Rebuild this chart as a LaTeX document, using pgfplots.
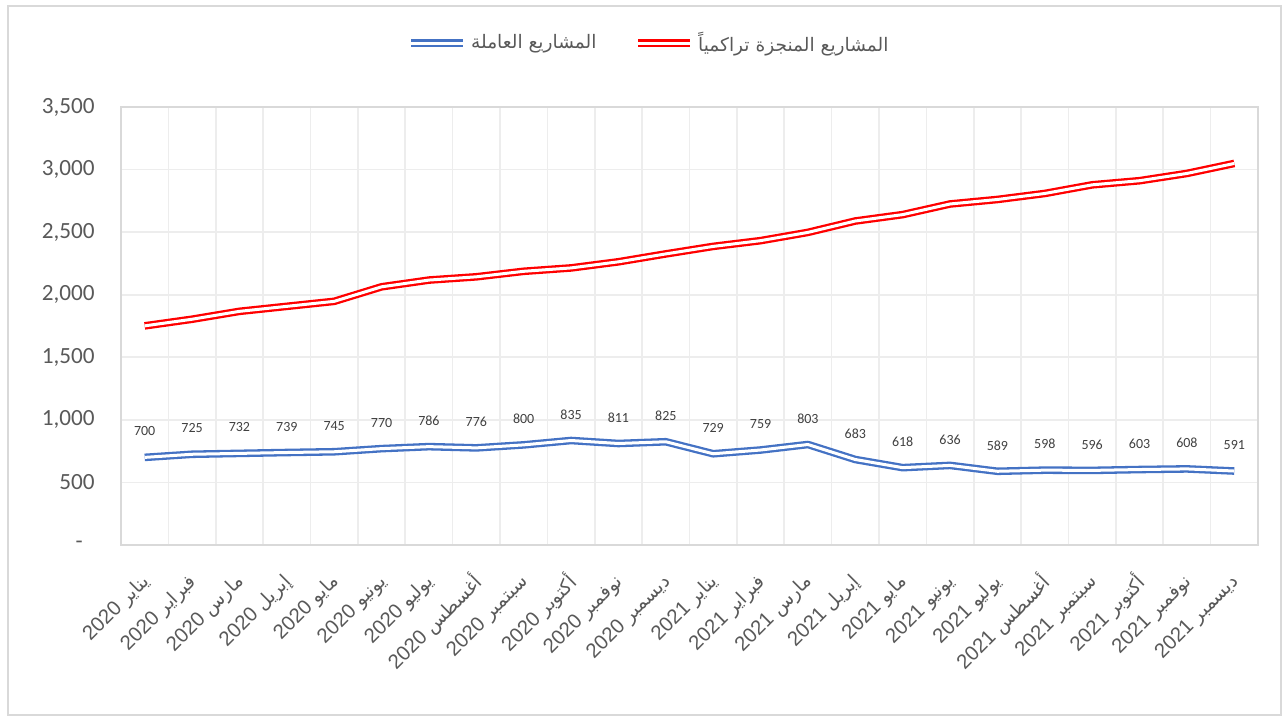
\documentclass[border=0pt]{standalone}
\usepackage{pgfplots}
\pgfplotsset{compat=1.18}
\usepackage{pgfplotstable}
\usepackage{fontspec}
\setmainfont{Carlito}
\newfontfamily\arabicfont[Script=Arabic]{DejaVu Sans}
\newfontfamily\arialfont{Liberation Sans}
\TeXXeTstate=1
\definecolor{txt}{HTML}{595959}
\definecolor{lbl}{HTML}{404040}
\definecolor{gridc}{HTML}{EDEDED}
\definecolor{axc}{HTML}{D9D9D9}
\definecolor{bl}{HTML}{4472C4}
\definecolor{rd}{HTML}{FF0000}
\newcommand{\xl}[2]{{\fontsize{10.2}{12}\arialfont #2}\hspace{3pt}{\arabicfont\beginR #1\endR}}

\pgfplotstableread{
x red blue
0 1751 700
1 1804 725
2 1867 732
3 1907 739
4 1947 745
5 2063 770
6 2117 786
7 2143 776
8 2187 800
9 2214 835
10 2263 811
11 2326 825
12 2386 729
13 2432 759
14 2498 803
15 2589 683
16 2640 618
17 2725 636
18 2761 589
19 2809 598
20 2878 596
21 2911 603
22 2969 608
23 3049 591
}\data

\begin{document}
\begin{tikzpicture}[x=1pt,y=1pt]
\useasboundingbox (-60.5,-85.5) rectangle (580.5,272.5);
\begin{axis}[
 at={(0,0)}, anchor=south west,
 scale only axis, width=568.5pt, height=219pt,
 xmin=-0.5, xmax=23.5, ymin=0, ymax=3500,
 xtick={0,...,23},
 xticklabels={\xl{يناير}{2020},\xl{فبراير}{2020},\xl{مارس}{2020},\xl{إبريل}{2020},\xl{مايو}{2020},\xl{يونيو}{2020},\xl{يوليو}{2020},\xl{أغسطس}{2020},\xl{سبتمبر}{2020},\xl{أكتوبر}{2020},\xl{نوفمبر}{2020},\xl{ديسمبر}{2020},\xl{يناير}{2021},\xl{فبراير}{2021},\xl{مارس}{2021},\xl{إبريل}{2021},\xl{مايو}{2021},\xl{يونيو}{2021},\xl{يوليو}{2021},\xl{أغسطس}{2021},\xl{سبتمبر}{2021},\xl{أكتوبر}{2021},\xl{نوفمبر}{2021},\xl{ديسمبر}{2021}},
 minor xtick={-0.5,0.5,...,23.5},
 xminorgrids, ymajorgrids,
 ytick={0,500,...,3500},
 yticklabels={{-\hphantom{0}},500,{1,000},{1,500},{2,000},{2,500},{3,000},{3,500}},
 major tick length=0pt, minor tick length=0pt,
 axis line style={axc, line width=0.7pt},
 minor grid style={gridc, line width=0.8pt},
 major grid style={gridc, line width=0.8pt},
 tick label style={text=txt},
 yticklabel style={font=\fontsize{11.6}{13}\selectfont, inner sep=0pt, xshift=-13pt},
 xticklabel style={font=\fontsize{9.4}{12}\selectfont, xshift=1pt, yshift=-17pt, rotate=45, anchor=east, inner sep=0pt},
 legend columns=2,
 legend style={at={(axis description cs:0.4653,1.146)}, anchor=center, draw=none, fill=none,
   font=\fontsize{9.3}{11}\selectfont, text=txt,
   /tikz/every even column/.append style={column sep=17pt}},
 legend image code/.code={\draw[#1] (0pt,0pt) -- (26pt,0pt);},
 clip=false,
]
\addplot[bl, line width=1.15pt, double=white, double distance=1.5pt, line join=round,
  nodes near coords={\pgfmathprintnumber[fixed,precision=0,1000 sep={},assume math mode=true]{\pgfplotspointmeta}},
  every node near coord/.append style={font=\fontsize{7}{8}\selectfont, text=lbl, anchor=center, yshift=13pt}]
  table[x=x,y=blue]{\data};
\addlegendentry{\arabicfont\beginR المشاريع العاملة\endR}
\addplot[rd, line width=1.15pt, double=white, double distance=1.5pt, line join=round]
  table[x=x,y=red]{\data};
\addlegendentry{\arabicfont\beginR المشاريع المنجزة تراكمياً\endR}
\end{axis}
\draw[axc, line width=0.75pt] (-56.5,-85) rectangle (580,269.5);
\end{tikzpicture}
\end{document}
